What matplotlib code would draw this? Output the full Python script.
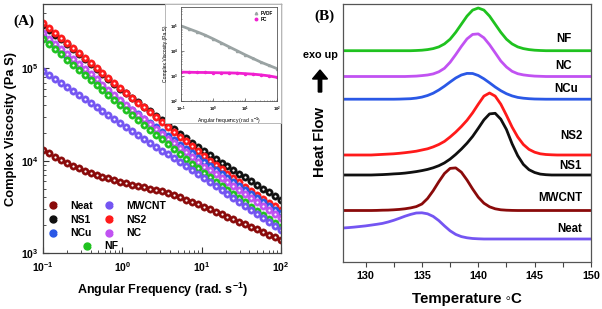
import numpy as np
import matplotlib
matplotlib.use('Agg')
import matplotlib.pyplot as plt
from matplotlib.lines import Line2D
from matplotlib.patches import FancyArrow, Rectangle
from matplotlib.ticker import FuncFormatter, NullFormatter, LogLocator, MultipleLocator
from matplotlib.transforms import IdentityTransform
from matplotlib.legend_handler import HandlerTuple

plt.rcParams['font.family'] = ['Liberation Sans', 'DejaVu Sans']
plt.rcParams['font.weight'] = 'bold'
plt.rcParams['mathtext.fontset'] = 'custom'
plt.rcParams['mathtext.rm'] = 'Liberation Sans:bold'
plt.rcParams['mathtext.bf'] = 'Liberation Sans:bold'
plt.rcParams['mathtext.it'] = 'Liberation Sans:bold'

# ---------------- panel A : complex viscosity vs angular frequency
freq = [0.1, 0.119, 0.141, 0.168, 0.200, 0.237, 0.282, 0.335, 0.398, 0.473,
        0.562, 0.668, 0.794, 0.944, 1.12, 1.33, 1.58, 1.88, 2.24, 2.66,
        3.16, 3.76, 4.47, 5.31, 6.31, 7.50, 8.91, 10.6, 12.6, 15.0,
        17.8, 21.1, 25.1, 29.9, 35.5, 42.2, 50.1, 59.6, 70.8, 84.1, 100]

ns1 = [299000, 264000, 233000, 207000, 183000, 161000, 143000, 126000, 112000, 98900,
       87500, 77300, 68400, 60500, 54100, 48300, 43300, 38600, 34500, 30800,
       27500, 24700, 22000, 19700, 17600, 15700, 14100, 12600, 11500, 10500,
       9530, 8690, 7930, 7230, 6590, 6010, 5480, 5000, 4560, 4160, 3790]
ns2 = [309000, 273000, 241000, 213000, 188000, 166000, 147000, 129000, 114000, 101000,
       89100, 78700, 69500, 61400, 54300, 48100, 42700, 37800, 33500, 29600,
       26300, 23300, 20700, 18300, 16200, 14400, 12700, 11300, 10000, 8970,
       8040, 7210, 6470, 5820, 5250, 4740, 4290, 3880, 3520, 3210, 2920]
ncu = [224000, 197000, 174000, 152000, 134000, 118000, 104000, 91500, 80600, 71000,
       62400, 55500, 49500, 44100, 39600, 35500, 31800, 28600, 25600, 23000,
       20600, 18500, 16600, 14800, 13300, 12000, 10700, 9620, 8730, 7910,
       7180, 6510, 5900, 5350, 4840, 4390, 3980, 3610, 3270, 2960, 2700]
nc = [240000, 211000, 186000, 163000, 144000, 126000, 111000, 98000, 86300, 76000,
      66800, 58800, 51800, 45600, 40400, 35800, 31700, 28100, 24900, 22000,
      19500, 17400, 15500, 13700, 12300, 10900, 9720, 8660, 7850, 7110,
      6440, 5830, 5290, 4790, 4340, 3920, 3560, 3230, 2920, 2640, 2400]
nf = [209000, 184000, 162000, 142000, 125000, 110000, 97100, 85400, 75200, 66200,
      58200, 51200, 45100, 39700, 35200, 31200, 27600, 24500, 21700, 19200,
      17000, 15100, 13400, 11800, 10500, 9300, 8240, 7300, 6590, 5940,
      5360, 4830, 4360, 3930, 3540, 3190, 2880, 2600, 2340, 2110, 1910]
mwcnt = [93300, 84400, 76400, 69100, 62500, 56600, 51200, 46300, 41900, 37900,
         34300, 31000, 28100, 25400, 23000, 20900, 19000, 17200, 15600, 14200,
         12900, 11700, 10600, 9650, 8760, 7950, 7220, 6550, 5930, 5360,
         4850, 4390, 3970, 3590, 3250, 2940, 2660, 2410, 2180, 1970, 1780]
neat = [13200, 12000, 11000, 10200, 9460, 8830, 8280, 7820, 7410, 7050,
        6730, 6440, 6180, 5940, 5730, 5520, 5330, 5150, 4980, 4810,
        4650, 4440, 4230, 4010, 3790, 3580, 3370, 3160, 2980, 2810,
        2640, 2480, 2330, 2190, 2060, 1930, 1800, 1690, 1580, 1480, 1380]

# inset : neat polymers
inset_freq = [0.1, 0.178, 0.316, 0.562, 1, 1.78, 3.16, 5.62, 10, 17.8, 31.6, 56.2, 100]
pvdf = [105000, 79400, 60300, 44700, 31600, 21900, 15100, 10500, 7240, 5130, 3630, 2690, 2000]
pc = [1450, 1430, 1410, 1400, 1380, 1360, 1350, 1320, 1260, 1200, 1120, 1020, 890]

# ---------------- panel B : DSC cooling curves (heat flow, arbitrary offset units)
temp = [128.0, 128.5, 129.0, 129.5, 130.0, 130.5, 131.0, 131.5, 132.0, 132.5,
        133.0, 133.5, 134.0, 134.5, 135.0, 135.5, 136.0, 136.5, 137.0, 137.5,
        138.0, 138.5, 139.0, 139.5, 140.0, 140.5, 141.0, 141.5, 142.0, 142.5,
        143.0, 143.5, 144.0, 144.5, 145.0, 145.5, 146.0, 146.5, 147.0, 147.5,
        148.0, 148.5, 149.0, 149.5, 150.0]
hf_nf = [211.3, 211.3, 211.3, 211.3, 211.3, 211.3, 211.3, 211.3, 211.3, 211.3,
         211.3, 211.3, 211.3, 211.5, 211.8, 212.4, 213.4, 215.1, 218.1, 222.8,
         229.7, 237.8, 245.9, 251.9, 254.0, 251.9, 245.9, 237.8, 229.7, 222.8,
         218.1, 215.1, 213.4, 212.4, 211.8, 211.5, 211.3, 211.3, 211.3, 211.3,
         211.3, 211.3, 211.3, 211.3, 211.3]
hf_nc = [185.5, 185.5, 185.5, 185.5, 185.5, 185.5, 185.5, 185.5, 185.5, 185.5,
         185.5, 185.5, 185.7, 185.9, 186.4, 187.0, 188.1, 190.2, 193.7, 199.7,
         207.4, 215.6, 223.1, 227.6, 228.1, 224.2, 217.3, 209.2, 201.0, 195.0,
         190.7, 188.3, 187.1, 186.4, 185.9, 185.7, 185.5, 185.5, 185.5, 185.5,
         185.5, 185.5, 185.5, 185.5, 185.5]
hf_ncu = [162.8, 162.8, 162.8, 162.8, 162.8, 162.8, 162.8, 162.8, 162.8, 162.8,
          162.9, 163.1, 163.3, 163.9, 164.9, 166.5, 168.8, 172.0, 175.8, 180.0,
          184.0, 187.0, 188.6, 188.5, 186.5, 183.2, 179.2, 175.0, 171.3, 168.3,
          166.1, 164.6, 163.8, 163.3, 163.0, 162.9, 162.8, 162.8, 162.8, 162.8,
          162.8, 162.8, 162.8, 162.8, 162.8]
hf_ns2 = [107.0, 107.0, 107.0, 107.0, 107.0, 107.0, 107.3, 107.6, 107.9, 108.2,
          108.7, 109.3, 110.0, 110.8, 112.0, 113.2, 115.1, 117.5, 120.6, 125.0,
          129.9, 135.5, 141.7, 149.2, 157.8, 165.9, 169.0, 165.9, 157.8, 146.7,
          134.9, 125.0, 117.5, 112.6, 109.8, 108.2, 107.5, 107.2, 107.0, 107.0,
          107.0, 107.0, 107.0, 107.0, 107.0]
hf_ns1 = [87.0, 87.0, 87.0, 87.0, 87.0, 87.0, 87.2, 87.4, 87.7, 88.1,
          88.4, 88.9, 89.6, 90.4, 91.4, 92.6, 94.2, 96.3, 99.1, 102.9,
          107.6, 112.9, 118.8, 125.6, 133.7, 142.1, 148.1, 148.7, 142.8, 132.5,
          118.2, 106.3, 97.6, 92.3, 89.5, 87.9, 87.3, 87.0, 87.0, 87.0,
          87.0, 87.0, 87.0, 87.0, 87.0]
hf_mwcnt = [51.5, 51.5, 51.5, 51.5, 51.5, 51.5, 51.6, 51.8, 51.9, 52.2,
            52.6, 53.2, 54.1, 55.4, 58.0, 63.5, 71.3, 80.3, 88.5, 93.6,
            94.1, 89.8, 82.0, 73.0, 64.8, 58.8, 55.2, 53.2, 52.2, 51.8,
            51.6, 51.5, 51.5, 51.5, 51.5, 51.5, 51.5, 51.5, 51.5, 51.5,
            51.5, 51.5, 51.5, 51.5, 51.5]
hf_neat = [34.0, 34.4, 34.9, 35.5, 36.1, 36.9, 37.7, 38.6, 40.0, 41.7,
           43.7, 45.8, 47.6, 49.0, 49.2, 48.2, 45.6, 41.4, 36.1, 31.2,
           27.6, 25.4, 24.2, 23.5, 23.2, 23.0, 23.0, 23.0, 23.0, 23.0,
           23.0, 23.0, 23.0, 23.0, 23.0, 23.0, 23.0, 23.0, 23.0, 23.0,
           23.0, 23.0, 23.0, 23.0, 23.0]

C_NEAT = '#8a0a0a'
C_NS1 = '#101010'
C_NS2 = '#ff1a1a'
C_MWCNT = '#7455f2'
C_NCU = '#2a58e6'
C_NC = '#c152f2'
C_NF = '#1fc21f'

fig = plt.figure(figsize=(6.02, 3.09), dpi=100)

# ---------- (A)
ax = fig.add_axes([43/602, 1-253/309, 238/602, 249/309])
ax.set_xscale('log')
ax.set_yscale('log')

series = [('NS1', ns1, C_NS1), ('NS2', ns2, C_NS2), ('NCu', ncu, C_NCU),
          ('NC', nc, C_NC), ('NF', nf, C_NF), ('MWCNT', mwcnt, C_MWCNT),
          ('Neat', neat, C_NEAT)]
handles = {}
for name, vals, col in series:
    ax.plot(freq, vals, ls='none', marker='o', ms=5.3, mfc=col, mec=col, mew=0.3)
    ax.plot(freq, vals, ls='none', marker='o', ms=1.6, mfc='white', mec='none')
    handles[name] = (Line2D([], [], ls='none', marker='o', ms=5, mfc=col, mec=col),
                     Line2D([], [], ls='none', marker='o', ms=1.5, mfc='white', mec='none'))

ax.set_xlim(0.1, 100)
ax.set_ylim(1e3, 5e5)
fmt = FuncFormatter(lambda v, p: r'$10^{%d}$' % round(np.log10(v)))
ax.xaxis.set_major_formatter(fmt)
ax.yaxis.set_major_formatter(fmt)
ax.xaxis.set_minor_formatter(NullFormatter())
ax.yaxis.set_minor_formatter(NullFormatter())
ax.xaxis.set_minor_locator(LogLocator(base=10, subs=np.arange(2, 10)))
ax.yaxis.set_minor_locator(LogLocator(base=10, subs=np.arange(2, 10)))
ax.tick_params(which='both', direction='in', labelsize=7.5, color='#333333')
ax.tick_params(which='major', length=4, width=0.8)
ax.tick_params(which='minor', length=2, width=0.6)
ax.tick_params(axis='x', pad=5)
ax.tick_params(axis='y', pad=3)
for s in ax.spines.values():
    s.set_color('#444444')
    s.set_linewidth(0.9)
ax.set_xlabel(r'Angular Frequency (rad. s$^{-1}$)', fontsize=9, fontweight='bold', labelpad=5)
ax.set_ylabel('Complex Viscosity (Pa S)', fontsize=9.3, fontweight='bold', labelpad=3)

order = ['Neat', 'NS1', 'NCu', 'MWCNT', 'NS2', 'NC']
leg1 = ax.legend([handles[k] for k in order], order, ncol=2, frameon=False,
                 loc='upper left', bbox_to_anchor=(0.0, 0.238), fontsize=7.5,
                 handler_map={tuple: HandlerTuple(ndivide=None, pad=0)},
                 handlelength=1.0, handletextpad=0.9, columnspacing=1.3,
                 labelspacing=0.35, borderpad=0.2)
ax.add_artist(leg1)
ax.legend([handles['NF']], ['NF'], frameon=False, loc='upper left',
          bbox_to_anchor=(0.144, 0.076), fontsize=7.5,
          handler_map={tuple: HandlerTuple(ndivide=None, pad=0)},
          handlelength=1.0, handletextpad=0.9, borderpad=0.2)

# inset
fig.add_artist(Rectangle((165/602, 1-123/309), 116/602, 119/309, transform=fig.transFigure,
                         facecolor='white', ec='#b8b8b8', lw=0.7, zorder=0.5))
axi = fig.add_axes([181/602, 1-101/309, 96/602, 94/309])
axi.set_zorder(1)
axi.set_xscale('log')
axi.set_yscale('log')
axi.plot(inset_freq, pvdf, color='#9aa3a3', lw=2.0, marker='^', ms=1.5, label='PVDF')
axi.plot(inset_freq, pc, color='#f020d0', lw=2.0, marker='o', ms=1.5, label='PC')
axi.set_xlim(0.1, 100)
axi.set_ylim(1e2, 6e5)
fmt_i = FuncFormatter(lambda v, p: r'$10^{%d}$' % round(np.log10(v)))
axi.xaxis.set_major_formatter(fmt_i)
axi.yaxis.set_major_formatter(fmt_i)
axi.xaxis.set_minor_formatter(NullFormatter())
axi.yaxis.set_minor_formatter(NullFormatter())
axi.tick_params(which='both', direction='in', labelsize=3.0, color='#555555')
axi.tick_params(axis='x', pad=3.0)
axi.tick_params(axis='y', pad=2.0)
axi.tick_params(which='major', length=2, width=0.5)
axi.tick_params(which='minor', length=1, width=0.4)
for s in axi.spines.values():
    s.set_color('#555555')
    s.set_linewidth(0.6)
axi.set_xlabel(r'Angular frequency (rad. s$^{-1}$)', fontsize=3.6, labelpad=1.2)
axi.set_ylabel('Complex Viscosity (Pa.S)', fontsize=3.6, labelpad=1.2)
axi.legend(loc='upper right', fontsize=3.3, frameon=False, handlelength=0.6,
           markerscale=1.2, handletextpad=0.8, borderpad=0.3, labelspacing=0.2)
for l in axi.get_legend().get_lines():
    l.set_linestyle('none')

fig.text(24/602, 1-21/309, '(A)', family=['Liberation Serif'], fontsize=11,
         fontweight='bold', ha='center', va='center')

# ---------- (B)
axb = fig.add_axes([343/602, 1-262/309, 248/602, 258/309])
curves = [(hf_nf, C_NF, 'NF', 148.3, 223), (hf_nc, C_NC, 'NC', 148.3, 196),
          (hf_ncu, C_NCU, 'NCu', 148.85, 173), (hf_ns2, C_NS2, 'NS2', 149.3, 126),
          (hf_ns1, C_NS1, 'NS1', 149.2, 96.3), (hf_mwcnt, C_NEAT, 'MWCNT', 149.2, 64.3),
          (hf_neat, C_MWCNT, 'Neat', 149.2, 33)]
for vals, col, name, tx, ty in curves:
    axb.plot(temp, vals, color=col, lw=2.0, solid_capstyle='butt')
    axb.text(tx, ty, name, ha='right', va='center', fontsize=8.3, fontweight='bold')
axb.set_xlim(128, 150)
axb.set_ylim(0, 258)
axb.set_yticks([])
axb.xaxis.set_major_locator(MultipleLocator(5))
axb.xaxis.set_minor_locator(MultipleLocator(2.5))
axb.tick_params(which='both', direction='out', labelsize=7.8, color='#444444')
axb.tick_params(which='major', length=3.5, width=0.8, pad=3)
axb.tick_params(which='minor', length=3.5, width=0.8)
for s in axb.spines.values():
    s.set_color('#555555')
    s.set_linewidth(0.9)
axb.set_xlabel('Temperature \u25e6C', fontsize=10.8, fontweight='bold', labelpad=8)

fig.text(320/602, 1-142/309, 'Heat Flow', rotation=90, fontsize=10.7,
         fontweight='bold', ha='center', va='center')
fig.text(320/602, 1-55/309, 'exo up', fontsize=7.8, fontweight='bold',
         ha='center', va='center')
fig.add_artist(FancyArrow(320, 309-92, 0, 22, width=3.4, head_width=15, head_length=9,
                          length_includes_head=True, color='k', transform=IdentityTransform()))
fig.text(324/602, 1-16/309, '(B)', family=['Liberation Serif'], fontsize=11,
         fontweight='bold', ha='center', va='center')

fig.savefig('out.png', dpi=100)
